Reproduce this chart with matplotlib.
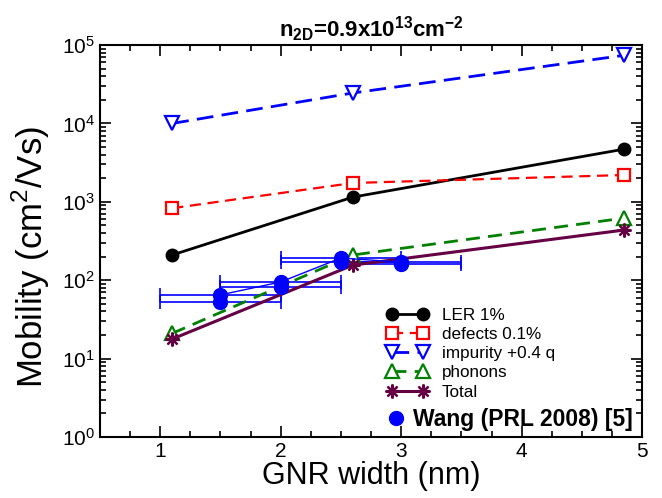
import numpy as np
import matplotlib
matplotlib.use('Agg')
import matplotlib.pyplot as plt
from matplotlib.ticker import MultipleLocator, LogLocator, NullFormatter

plt.rcParams['font.family'] = ['Liberation Sans', 'DejaVu Sans']
plt.rcParams['mathtext.fontset'] = 'custom'
plt.rcParams['mathtext.rm'] = 'Liberation Sans'
plt.rcParams['mathtext.bf'] = 'Liberation Sans:bold'

# simulated mobilities vs GNR width
width = [1.1, 2.6, 4.85]
ler = [210, 1150, 4700]
defects = [830, 1740, 2200]
impurity = [10000, 24500, 74000]
phonons = [21, 210, 620]
total = [17.8, 156, 437]

# measured data, Wang (PRL 2008)
wang_w = [1.5, 2.0, 2.5, 3.0]
wang_hi = [65, 95, 192, 170]
wang_lo = [53, 82, 172, 162]
wang_werr = 0.5

fig = plt.figure(figsize=(6.62, 4.98), dpi=100)
ax = fig.add_axes([0.151, 0.1225, 0.819, 0.787])

# Wang data (thin line through one set, error bars on both)
ax.errorbar(wang_w, wang_hi, xerr=wang_werr, color='#0000ff', lw=1, marker='o',
            ms=10, capsize=5, elinewidth=1.2, capthick=1.2, zorder=2)
ax.errorbar(wang_w, wang_lo, xerr=wang_werr, color='#0000ff', ls='none', marker='o',
            ms=10, capsize=5, elinewidth=1.2, capthick=1.2, zorder=2)

l1, = ax.plot(width, ler, color='black', lw=2, marker='o', ms=9, label='LER 1%')
l2, = ax.plot(width, defects, color='#ff0000', lw=1.6, ls=(0, (5, 3)), marker='s', ms=8,
              mfc='white', mew=1.6, label='defects 0.1%')
l3, = ax.plot(width, impurity, color='#0000ff', lw=2, ls=(0, (6, 3)), marker='v', ms=10,
              mfc='white', mew=1.6, label='impurity +0.4 q')
l4, = ax.plot(width, phonons, color='#008000', lw=2, ls=(0, (5, 3)), marker='^', ms=10,
              mfc='white', mew=1.6, label='phonons')
l5, = ax.plot(width, total, color='#660044', lw=2.2, marker=(8, 2, 0), ms=10, mew=1.6,
              label='Total')

ax.set_yscale('log')
ax.set_xlim(0.5, 5)
ax.set_ylim(1, 1e5)
ax.xaxis.set_major_locator(MultipleLocator(1))
ax.xaxis.set_minor_locator(MultipleLocator(0.25))
ax.yaxis.set_major_locator(LogLocator(base=10, numticks=10))
ax.yaxis.set_minor_locator(LogLocator(base=10, subs=np.arange(2, 10), numticks=10))
ax.yaxis.set_minor_formatter(NullFormatter())
ax.tick_params(which='both', direction='in', top=True, right=True, width=1.2)
ax.tick_params(which='major', length=8, labelsize=15)
ax.tick_params(which='minor', length=4)
for s in ax.spines.values():
    s.set_linewidth(1.5)

ax.set_xlabel('GNR width (nm)', fontsize=22, labelpad=0)
ax.set_ylabel('Mobility (cm$^2$/Vs)', fontsize=25)
ax.yaxis.set_label_coords(-0.088, 0.46)
ax.set_title(r'$\mathbf{n_{2D}}$=0.9x10$^{\mathbf{13}}$cm$^{\mathbf{-2}}$',
             fontsize=16, fontweight='bold', pad=6)

leg1 = ax.legend(handles=[l1, l2, l3, l4, l5], loc='upper left',
                 bbox_to_anchor=(0.53, 0.33), frameon=False, fontsize=12.3,
                 numpoints=2, handlelength=2.4, handletextpad=0.8, labelspacing=0.25,
                 borderpad=0, borderaxespad=0)
ax.add_artist(leg1)
wang_handle, = ax.plot([], [], 'o', color='#0000ff', ms=10)
leg2 = ax.legend(handles=[wang_handle], labels=['Wang (PRL 2008) [5]'], loc='center left',
                 bbox_to_anchor=(0.533, 0.045), frameon=False, numpoints=1,
                 prop={'weight': 'bold', 'size': 16.5}, handlelength=0.6,
                 handletextpad=0.43, borderpad=0, borderaxespad=0)

fig.savefig('out.png', dpi=100)
